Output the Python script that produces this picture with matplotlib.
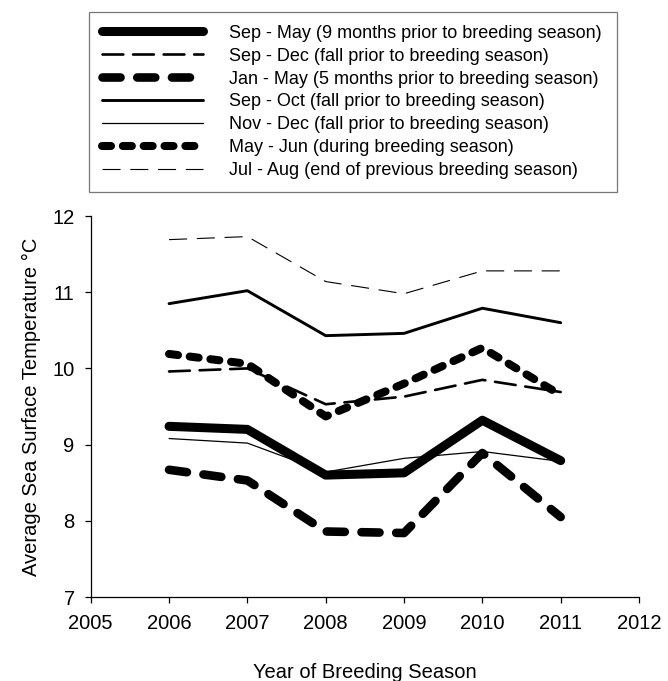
import numpy as np
import matplotlib
matplotlib.use("Agg")
import matplotlib.pyplot as plt

plt.rcParams['font.family'] = ['Liberation Sans', 'DejaVu Sans']
plt.rcParams['lines.scale_dashes'] = False

years = [2006, 2007, 2008, 2009, 2010, 2011]

sep_may = [9.24, 9.20, 8.60, 8.63, 9.32, 8.79]
sep_dec = [9.96, 10.00, 9.53, 9.63, 9.85, 9.69]
jan_may = [8.67, 8.53, 7.86, 7.84, 8.89, 8.05]
sep_oct = [10.85, 11.02, 10.43, 10.46, 10.79, 10.60]
nov_dec = [9.08, 9.02, 8.64, 8.82, 8.91, 8.78]
may_jun = [10.19, 10.06, 9.37, 9.80, 10.27, 9.65]
jul_aug = [11.69, 11.73, 11.14, 10.98, 11.28, 11.28]

labels = [
    "Sep - May (9 months prior to breeding season)",
    "Sep - Dec (fall prior to breeding season)",
    "Jan - May (5 months prior to breeding season)",
    "Sep - Oct (fall prior to breeding season)",
    "Nov - Dec (fall prior to breeding season)",
    "May - Jun (during breeding season)",
    "Jul - Aug (end of previous breeding season)",
]

fig = plt.figure(figsize=(6.68, 6.81), dpi=100)
ax = fig.add_axes([0.1358, 0.1233, 0.8208, 0.5595])

rnd = dict(solid_capstyle='round', dash_capstyle='round',
           solid_joinstyle='round', dash_joinstyle='round', color='black')

# series
ax.plot(years, sep_may, lw=6.5, label=labels[0], **rnd)
ax.plot(years, sep_dec, lw=1.9, dashes=(15, 7), label=labels[1], **rnd)
ax.plot(years, jan_may, lw=6.2, dashes=(13, 12), label=labels[2], **rnd)
ax.plot(years, sep_oct, lw=2.1, label=labels[3], **rnd)
ax.plot(years, nov_dec, lw=0.9, label=labels[4], **rnd)
ax.plot(years, may_jun, lw=5.8, dashes=(6.5, 8.5), label=labels[5], **rnd)
ax.plot(years, jul_aug, lw=0.8, dashes=(13, 7), label=labels[6], color='black')

ax.set_xlim(2005, 2012)
ax.set_ylim(7, 12)
ax.set_xticks(np.arange(2005, 2013))
ax.set_yticks(np.arange(7, 13))

for s in ['top', 'right']:
    ax.spines[s].set_visible(False)
for s in ['left', 'bottom']:
    ax.spines[s].set_linewidth(0.9)

ax.tick_params(direction='out', length=4.5, width=0.9, labelsize=14.5)
ax.tick_params(axis='x', pad=8)
ax.tick_params(axis='y', pad=7)
ax.set_xlabel("Year of Breeding Season", fontsize=14.5, labelpad=21)
ax.set_ylabel("Average Sea Surface Temperature \u00b0C", fontsize=14.5, labelpad=8)

leg = fig.legend(loc='upper left', bbox_to_anchor=(0.1332, 0.7225, 0.7905, 0.2599),
                 mode='expand', fontsize=13, handlelength=5.6, handletextpad=1.45,
                 labelspacing=0.33, borderpad=0.7, borderaxespad=0,
                 fancybox=False, frameon=True)
leg.get_frame().set_edgecolor('#555555')
leg.get_frame().set_linewidth(0.9)

fig.savefig("out.png", dpi=100)
